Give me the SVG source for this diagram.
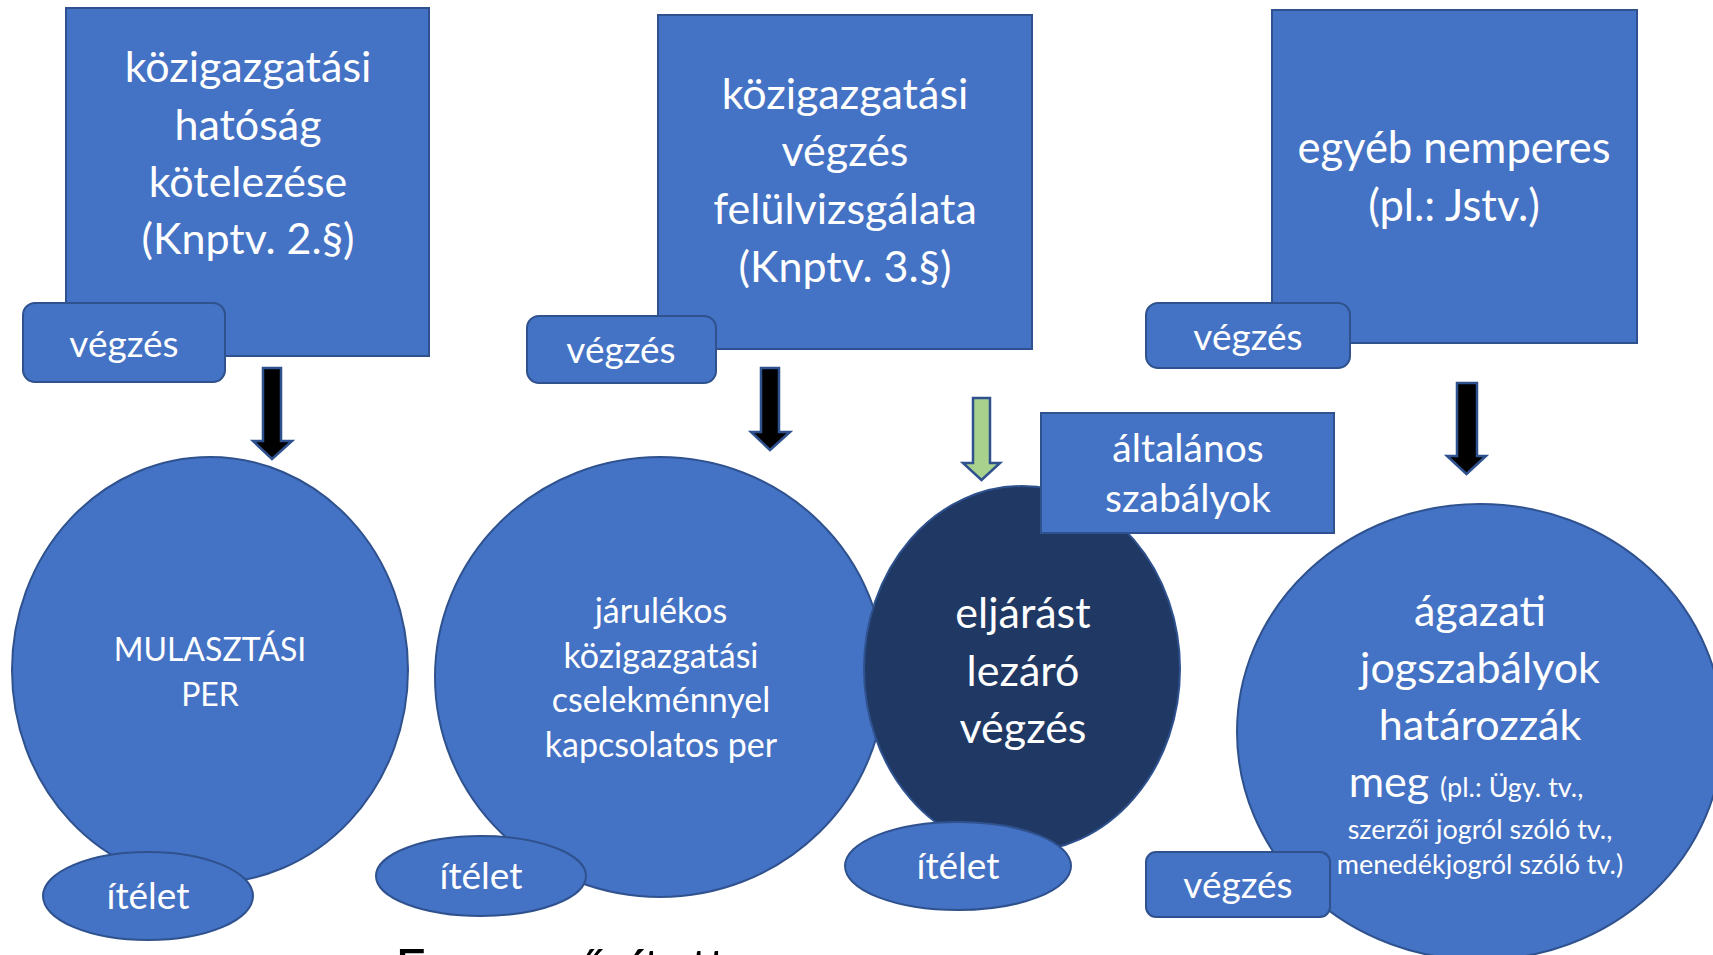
<svg xmlns="http://www.w3.org/2000/svg" width="1713" height="955" viewBox="0 0 1713 955">
<style>
.b{fill:#4472C4;stroke:#2F528F;stroke-width:2}
.d{fill:#203864;stroke:#2F528F;stroke-width:2}
.t{fill:#fff;font-family:Lato,"Open Sans","Liberation Sans",sans-serif;text-anchor:middle}
.ar{fill:#000;stroke:#2F528F;stroke-width:2.5;stroke-linejoin:miter}
.ag{fill:#A9D18E;stroke:#2F528F;stroke-width:2.5}
</style>
<rect width="1713" height="955" fill="#fff"/>
<g id="box1">
<rect class="b" x="66" y="8" width="363" height="348"/>
<text class="t" font-size="43" x="248"><tspan x="248" y="82">közigazgatási</tspan><tspan x="248" y="140">hatóság</tspan><tspan x="248" y="197">kötelezése</tspan><tspan x="248" y="254">(Knptv. 2.§)</tspan></text>
</g>
<g id="vegzes1">
<rect class="b" x="23" y="303" width="202" height="79" rx="12"/>
<text class="t" font-size="37" x="124" y="357">végzés</text>
</g>
<g id="box2">
<rect class="b" x="658" y="15" width="374" height="334"/>
<text class="t" font-size="43" x="845"><tspan x="845" y="109">közigazgatási</tspan><tspan x="845" y="166">végzés</tspan><tspan x="845" y="224">felülvizsgálata</tspan><tspan x="845" y="282">(Knptv. 3.§)</tspan></text>
</g>
<g id="vegzes2">
<rect class="b" x="527" y="316" width="189" height="67" rx="12"/>
<text class="t" font-size="37" x="621" y="363">végzés</text>
</g>
<g id="box3">
<rect class="b" x="1272" y="10" width="365" height="333"/>
<text class="t" font-size="43.5" x="1454"><tspan x="1454" y="163">egyéb nemperes</tspan><tspan x="1454" y="221">(pl.: Jstv.)</tspan></text>
</g>
<g id="vegzes3">
<rect class="b" x="1146" y="303" width="204" height="65" rx="12"/>
<text class="t" font-size="37" x="1248" y="350">végzés</text>
</g>
<g id="connectors">
<polygon class="ar" points="263,368 281,368 281,441 292,441 272,459 253,441 263,441"/>
<polygon class="ar" points="761,368 779,368 779,432 790,432 770,450 751,432 761,432"/>
<polygon class="ag" points="973,398 990,398 990,463 1000,463 981.5,480 963,463 973,463"/>
<polygon class="ar" points="1457,383 1477,383 1477,456 1486,456 1466.5,474 1447,456 1457,456"/>
</g>
<g id="mulasztasi">
<ellipse class="b" cx="210" cy="670" rx="198" ry="213"/>
<text class="t" font-size="32" x="210"><tspan x="210" y="661">MULASZTÁSI</tspan><tspan x="210" y="706">PER</tspan></text>
</g>
<g id="itelet1">
<ellipse class="b" cx="148" cy="896" rx="105" ry="44"/>
<text class="t" font-size="37" x="148" y="909">ítélet</text>
</g>
<g id="jarulekos">
<ellipse class="b" cx="660" cy="677" rx="225" ry="220"/>
<text class="t" font-size="34" x="661"><tspan x="661" y="623">járulékos</tspan><tspan x="661" y="668">közigazgatási</tspan><tspan x="661" y="712">cselekménnyel</tspan><tspan x="661" y="757">kapcsolatos per</tspan></text>
</g>
<g id="itelet2">
<ellipse class="b" cx="481" cy="876" rx="105" ry="40"/>
<text class="t" font-size="37" x="481" y="889">ítélet</text>
</g>
<g id="lezaro">
<ellipse class="d" cx="1022" cy="669" rx="158" ry="183"/>
<text class="t" font-size="43" x="1023"><tspan x="1023" y="628">eljárást</tspan><tspan x="1023" y="686">lezáró</tspan><tspan x="1023" y="743">végzés</tspan></text>
</g>
<g id="itelet3">
<ellipse class="b" cx="958" cy="866" rx="113" ry="44"/>
<text class="t" font-size="37" x="958" y="879">ítélet</text>
</g>
<g id="altalanos">
<rect class="b" x="1041" y="413" width="293" height="120"/>
<text class="t" font-size="39" x="1188"><tspan x="1188" y="462">általános</tspan><tspan x="1188" y="512">szabályok</tspan></text>
</g>
<g id="agazati">
<ellipse class="b" cx="1480" cy="732" rx="243" ry="228"/>
<text class="t" font-size="43" x="1480"><tspan x="1480" y="626">ágazati</tspan><tspan x="1480" y="683">jogszabályok</tspan><tspan x="1480" y="740">határozzák</tspan></text>
<text class="t" x="1466" y="797"><tspan font-size="43">meg </tspan><tspan font-size="27">(pl.: Ügy. tv.,</tspan></text>
<text class="t" font-size="27" x="1480"><tspan x="1480" y="839">szerzői jogról szóló tv.,</tspan><tspan x="1480" y="874">menedékjogról szóló tv.)</tspan></text>
</g>
<g id="vegzes4">
<rect class="b" x="1146" y="852" width="184" height="65" rx="10"/>
<text class="t" font-size="37" x="1238" y="898">végzés</text>
</g>
<g id="bottom">
<text font-family="Lato,'Open Sans','Liberation Sans',sans-serif" font-size="54" fill="#000" x="395" y="988">Egyszerűsített per</text>
</g>
</svg>
